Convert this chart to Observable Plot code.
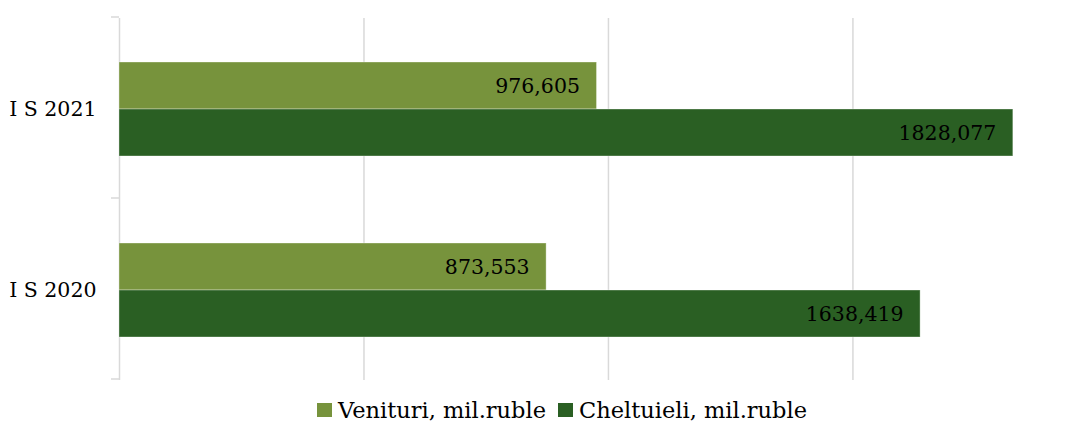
<!DOCTYPE html>
<html>
<head>
<meta charset="utf-8">
<script src="https://cdn.jsdelivr.net/npm/d3@7"></script>
<script src="https://cdn.jsdelivr.net/npm/@observablehq/plot@0.6"></script>
<style>
  body { margin: 0; background: #fff; font-family: "DejaVu Serif", serif; }
  #legend { display: flex; justify-content: center; align-items: center; height: 36px; padding-left: 42px; font-size: 22.5px; line-height: 1; color: #000; }
  .item { display: flex; align-items: center; margin: 0 6px; }
  .sw { width: 15px; height: 14px; margin-right: 6px; }
</style>
</head>
<body>
<div id="chart"></div>
<div id="legend"></div>
<script>
const categories = ["I S 2021", "I S 2020"];
const series = ["Venituri, mil.ruble", "Cheltuieli, mil.ruble"];
const venituri = [976.605, 873.553];
const cheltuieli = [1828.077, 1638.419];
const xTicks = [0, 500, 1000, 1500];
const colors = ["#77933c", "#2a5f23"];

const rows = [];
categories.forEach((c, i) => {
  rows.push({cat: c, ser: series[0], value: venituri[i]});
  rows.push({cat: c, ser: series[1], value: cheltuieli[i]});
});

const fmt = d3.formatLocale({decimal: ",", thousands: "", grouping: [3], currency: ["", ""]}).format(".3f");

const W = 1082, H = 392;
const plot = Plot.plot({
  width: W, height: H,
  marginLeft: 119, marginRight: 34, marginTop: 17, marginBottom: 12,
  style: {fontFamily: "DejaVu Serif, serif", fontSize: "20.5px", color: "#000", background: "#fff"},
  x: {domain: [0, 1900], axis: null},
  y: {domain: series, paddingInner: 0, paddingOuter: 0.905, axis: null},
  fy: {domain: categories, padding: 0, label: null},
  color: {domain: series, range: colors},
  marks: [
    Plot.gridX(xTicks, {stroke: "#d9d9d9", strokeOpacity: 1, strokeWidth: 1.5}),
    Plot.barX(rows, {fy: "cat", y: "ser", x: "value", fill: "ser", stroke: "#ffffff", strokeOpacity: 0.35, strokeWidth: 1}),
    Plot.text(rows, {fy: "cat", y: "ser", x: "value", text: d => fmt(d.value), textAnchor: "end", dx: -17, fill: "#000", fontSize: 20.5}),
    Plot.axisFy({anchor: "left", tickSize: 0, tickPadding: 23, fontSize: 20.5, label: null})
  ]
});

// category boundary tick marks on the left axis, derived from the fy scale
const fy = plot.scale("fy");
const xs = plot.scale("x");
const x0 = xs.apply(0);
const r0 = fy.range[0];
const svg = d3.select(plot.tagName === "svg" ? plot : plot.querySelector("svg"));
const g = svg.append("g");
for (let i = 0; i <= categories.length; i++) {
  const yy = r0 + i * fy.step;
  g.append("line").attr("x1", x0 - 8).attr("x2", x0).attr("y1", yy).attr("y2", yy)
    .attr("stroke", "#d9d9d9").attr("stroke-width", 1.5);
}

document.getElementById("chart").appendChild(plot);

const legend = d3.select("#legend");
series.forEach((s, i) => {
  const it = legend.append("div").attr("class", "item");
  it.append("div").attr("class", "sw").style("background", colors[i]);
  it.append("span").text(s);
});
</script>
</body>
</html>
